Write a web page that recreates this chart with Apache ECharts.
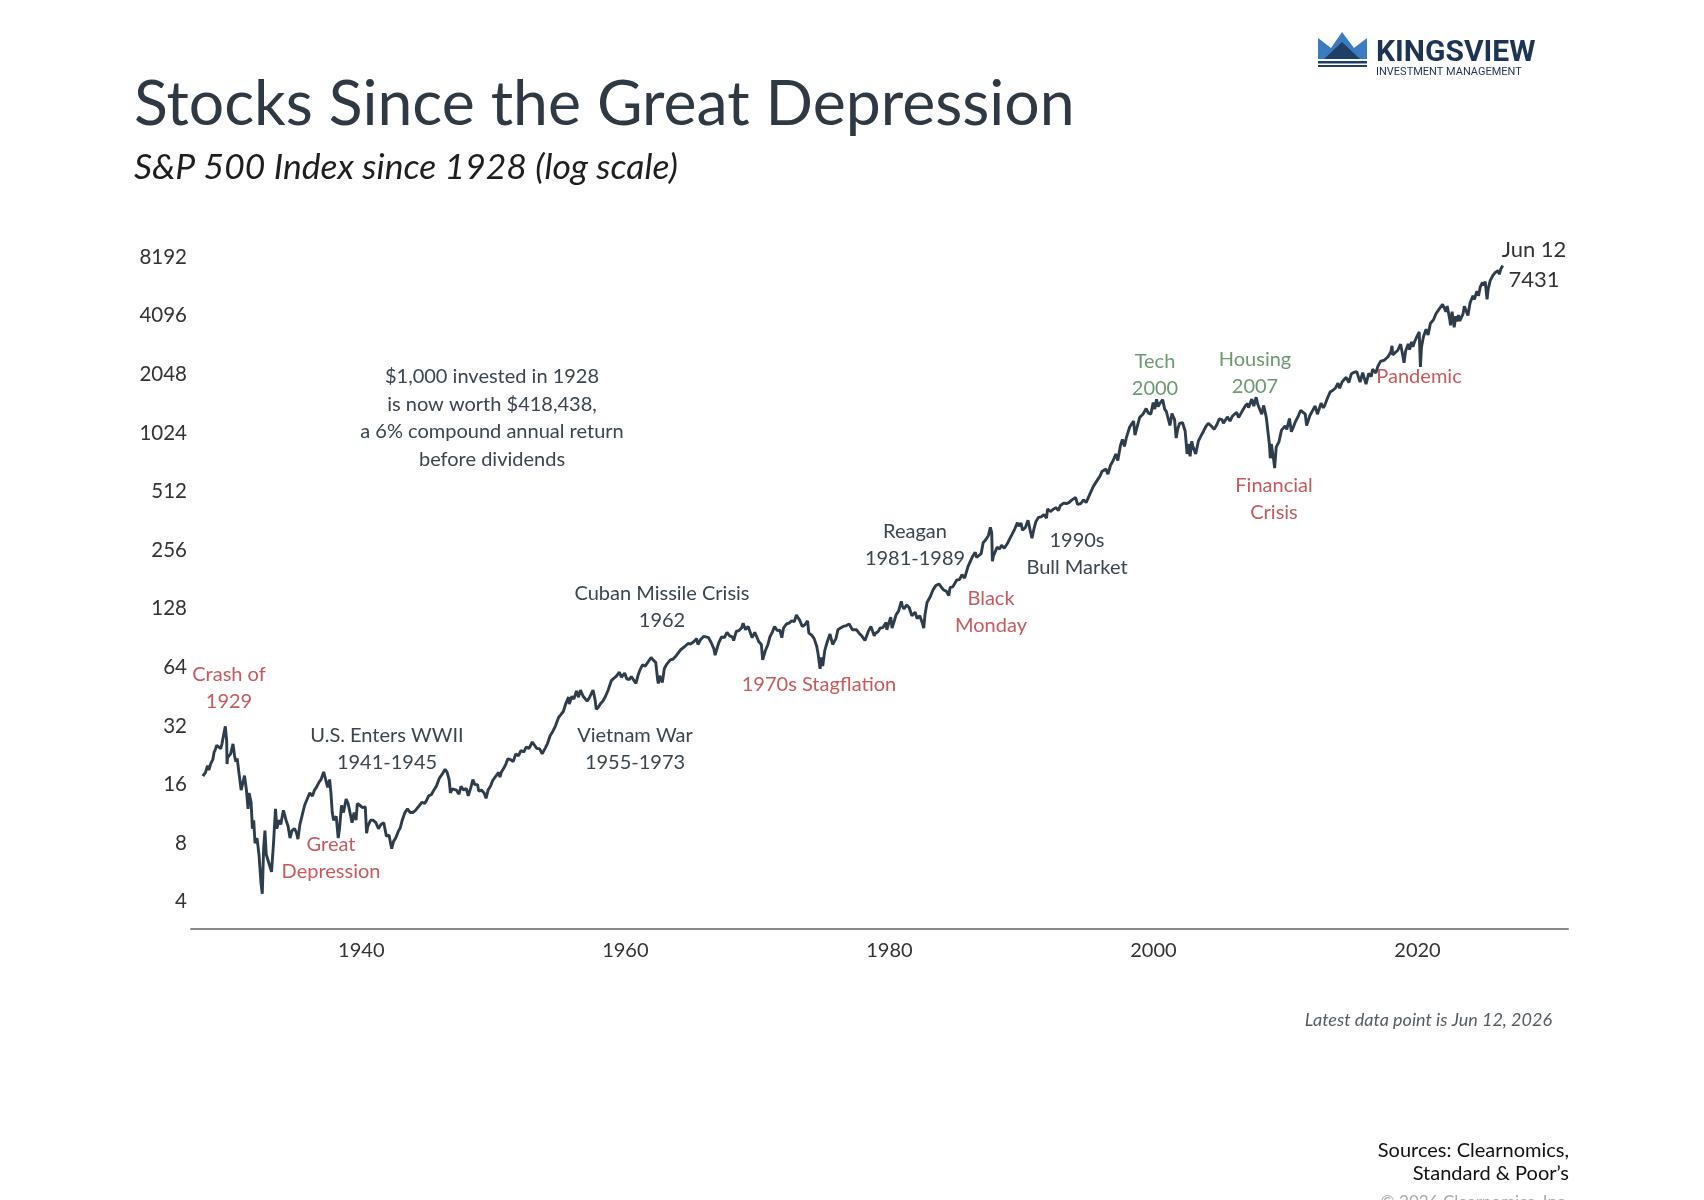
<!DOCTYPE html>
<html>
<head>
<meta charset="utf-8">
<title>Stocks Since the Great Depression</title>
<script src="https://cdn.jsdelivr.net/npm/echarts@6/dist/echarts.min.js"></script>
<style>
  html, body { margin: 0; padding: 0; background: #fff; }
  #chart { width: 1704px; height: 1200px; }
</style>
</head>
<body>
<div id="chart"></div>
<script>
// S&P 500 index (decimal year, index level)
var years = [
  1928.0,1928.1,1928.2,1928.35,1928.45,1928.6,1928.75,1928.85,1928.95,
  1929.05,1929.2,1929.35,1929.45,1929.6,1929.7,1929.8,1929.83,1929.87,1929.95,
  1930.1,1930.28,1930.4,1930.5,1930.6,1930.75,1930.9,1930.98,
  1931.15,1931.3,1931.42,1931.5,1931.65,1931.75,1931.85,1931.95,
  1932.1,1932.25,1932.4,1932.5,1932.6,1932.7,1932.8,1932.95,
  1933.1,1933.2,1933.35,1933.5,1933.6,1933.75,1933.9,
  1934.1,1934.3,1934.45,1934.6,1934.75,1934.95,
  1935.1,1935.2,1935.35,1935.5,1935.7,1935.9,
  1936.1,1936.3,1936.45,1936.6,1936.8,1936.95,
  1937.15,1937.3,1937.45,1937.6,1937.7,1937.8,1937.9,1937.98,
  1938.1,1938.25,1938.35,1938.5,1938.65,1938.85,
  1939.0,1939.2,1939.3,1939.45,1939.6,1939.7,1939.9,
  1940.1,1940.3,1940.4,1940.5,1940.7,1940.9,
  1941.1,1941.3,1941.5,1941.7,1941.9,
  1942.1,1942.3,1942.45,1942.6,1942.8,1942.95,
  1943.1,1943.3,1943.5,1943.7,1943.9,
  1944.1,1944.4,1944.6,1944.8,1944.95,
  1945.1,1945.3,1945.5,1945.7,1945.9,
  1946.1,1946.35,1946.5,1946.65,1946.75,1946.9,
  1947.05,1947.2,1947.4,1947.55,1947.75,1947.95,
  1948.1,1948.3,1948.45,1948.6,1948.8,1948.9,
  1949.1,1949.3,1949.45,1949.6,1949.8,1949.95,
  1950.1,1950.4,1950.5,1950.6,1950.8,1950.95,
  1951.1,1951.3,1951.5,1951.7,1951.9,
  1952.1,1952.3,1952.5,1952.7,1952.95,
  1953.05,1953.3,1953.5,1953.7,1953.95,
  1954.1,1954.3,1954.5,1954.7,1954.95,
  1955.1,1955.3,1955.5,1955.7,1955.75,1955.95,
  1956.1,1956.3,1956.45,1956.6,1956.8,1956.95,
  1957.1,1957.3,1957.55,1957.7,1957.8,1957.95,
  1958.1,1958.3,1958.5,1958.7,1958.95,
  1959.1,1959.3,1959.55,1959.7,1959.95,
  1960.1,1960.3,1960.45,1960.6,1960.8,1960.95,
  1961.1,1961.3,1961.5,1961.7,1961.95,
  1962.1,1962.3,1962.45,1962.5,1962.6,1962.8,1962.95,
  1963.1,1963.4,1963.6,1963.85,1963.95,
  1964.2,1964.5,1964.75,1964.95,
  1965.2,1965.4,1965.5,1965.7,1965.95,
  1966.1,1966.3,1966.5,1966.7,1966.8,1966.95,
  1967.1,1967.3,1967.5,1967.7,1967.9,
  1968.1,1968.2,1968.4,1968.6,1968.8,1968.92,
  1969.1,1969.3,1969.5,1969.6,1969.8,1969.95,
  1970.1,1970.3,1970.4,1970.45,1970.6,1970.8,1970.95,
  1971.1,1971.3,1971.5,1971.7,1971.85,1971.98,
  1972.2,1972.4,1972.6,1972.8,1972.95,
  1973.03,1973.2,1973.4,1973.6,1973.8,1973.9,1973.98,
  1974.1,1974.3,1974.5,1974.6,1974.75,1974.85,1974.95,
  1975.1,1975.3,1975.5,1975.7,1975.95,
  1976.1,1976.3,1976.5,1976.75,1976.95,
  1977.2,1977.5,1977.7,1977.9,
  1978.15,1978.4,1978.6,1978.7,1978.85,1978.95,
  1979.15,1979.3,1979.5,1979.75,1979.8,1979.95,
  1980.1,1980.2,1980.3,1980.5,1980.7,1980.9,1980.97,
  1981.1,1981.3,1981.5,1981.7,1981.95,
  1982.1,1982.3,1982.5,1982.6,1982.7,1982.85,1982.95,
  1983.1,1983.3,1983.5,1983.75,1983.95,
  1984.1,1984.3,1984.5,1984.6,1984.8,1984.95,
  1985.1,1985.3,1985.5,1985.7,1985.95,
  1986.1,1986.3,1986.5,1986.6,1986.75,1986.95,
  1987.1,1987.3,1987.5,1987.65,1987.75,1987.8,1987.88,1987.97,
  1988.15,1988.35,1988.5,1988.7,1988.95,
  1989.1,1989.3,1989.5,1989.7,1989.8,1989.97,
  1990.08,1990.3,1990.5,1990.55,1990.7,1990.8,1990.95,
  1991.1,1991.3,1991.5,1991.7,1991.9,1991.98,
  1992.2,1992.4,1992.6,1992.8,1992.95,
  1993.2,1993.4,1993.6,1993.8,1993.95,
  1994.1,1994.25,1994.5,1994.7,1994.9,1994.98,
  1995.2,1995.45,1995.7,1995.95,
  1996.1,1996.4,1996.55,1996.75,1996.95,
  1997.15,1997.3,1997.5,1997.65,1997.8,1997.95,
  1998.2,1998.5,1998.6,1998.75,1998.95,
  1999.2,1999.45,1999.6,1999.8,1999.98,
  2000.1,2000.23,2000.35,2000.5,2000.7,2000.85,2000.98,
  2001.1,2001.25,2001.4,2001.6,2001.72,2001.85,2001.98,
  2002.2,2002.4,2002.55,2002.65,2002.78,2002.9,2002.98,
  2003.2,2003.4,2003.6,2003.8,2003.98,
  2004.15,2004.4,2004.6,2004.8,2004.98,
  2005.2,2005.3,2005.6,2005.8,2005.98,
  2006.3,2006.45,2006.7,2006.98,
  2007.15,2007.2,2007.45,2007.6,2007.78,2007.9,2007.98,
  2008.2,2008.35,2008.55,2008.7,2008.78,2008.85,2008.93,2008.98,
  2009.1,2009.18,2009.3,2009.5,2009.7,2009.98,
  2010.1,2010.3,2010.45,2010.6,2010.75,2010.98,
  2011.15,2011.3,2011.5,2011.6,2011.75,2011.85,2011.98,
  2012.25,2012.42,2012.7,2012.87,2012.98,
  2013.2,2013.4,2013.6,2013.8,2013.98,
  2014.1,2014.3,2014.6,2014.8,2014.98,
  2015.2,2015.4,2015.65,2015.85,2015.98,
  2016.1,2016.3,2016.5,2016.6,2016.85,2016.98,
  2017.2,2017.5,2017.75,2017.98,
  2018.07,2018.12,2018.3,2018.5,2018.72,2018.85,2018.98,
  2019.1,2019.3,2019.4,2019.55,2019.65,2019.8,2019.98,
  2020.13,2020.22,2020.3,2020.45,2020.65,2020.8,2020.98,
  2021.2,2021.4,2021.6,2021.75,2021.9,2021.99,
  2022.01,2022.15,2022.25,2022.45,2022.5,2022.62,2022.78,2022.9,2022.98,
  2023.1,2023.2,2023.45,2023.55,2023.82,2023.98,
  2024.2,2024.3,2024.5,2024.6,2024.62,2024.75,2024.92,2024.98,
  2025.13,2025.27,2025.35,2025.5,2025.7,2025.85,2025.98,
  2026.1,2026.2,2026.3,2026.4,2026.45
];

var spx = [
  17.7,17.3,18.5,20.0,19.0,20.5,21.5,23.5,24.3,
  25.5,25.0,24.5,26.0,29.5,31.9,27.0,20.4,22.0,21.5,
  23.0,25.9,22.5,21.0,21.8,18.0,15.0,15.3,
  17.8,15.0,12.0,14.5,13.0,9.5,10.5,8.0,
  8.5,7.0,5.0,4.4,7.5,9.3,7.0,7.0,
  6.0,5.7,8.0,12.0,9.5,10.5,10.0,
  11.8,10.5,9.8,8.5,9.3,9.5,
  9.0,8.4,10.0,11.0,12.5,13.5,
  14.5,14.0,15.0,15.5,16.5,17.0,
  18.6,17.0,15.5,17.0,14.5,11.5,10.5,10.5,
  11.0,8.5,9.5,12.5,11.5,13.5,
  12.8,11.0,10.2,11.5,10.5,12.8,12.5,
  12.2,12.3,9.0,9.8,10.5,10.5,
  10.2,9.5,10.0,10.2,8.7,
  8.8,7.5,8.2,8.5,9.2,9.6,
  10.5,11.5,12.0,11.5,11.5,
  11.8,12.5,13.0,12.8,13.3,
  14.0,14.2,15.0,15.8,17.2,
  18.0,19.2,18.5,17.0,14.5,15.2,
  15.5,15.0,14.3,15.7,15.0,15.3,
  14.0,15.5,17.0,16.0,16.0,14.8,
  15.0,14.5,13.6,15.0,15.8,16.8,
  17.2,18.5,17.5,18.5,19.5,20.4,
  21.7,21.5,21.0,23.0,22.5,
  24.0,23.5,25.0,24.5,26.5,
  26.5,24.5,24.5,23.0,24.8,
  26.0,28.5,30.0,32.0,35.5,
  36.5,38.0,42.0,45.0,41.5,45.5,
  44.0,48.5,45.0,49.0,45.5,46.5,
  43.0,45.0,49.0,44.0,39.0,40.0,
  41.5,43.0,45.5,49.0,55.0,
  55.5,57.5,60.5,57.0,59.9,
  56.0,55.5,57.5,56.5,53.0,58.0,
  62.0,66.0,65.0,68.0,72.0,
  70.0,68.0,55.0,53.0,58.0,53.5,63.0,
  66.0,70.0,70.5,73.5,75.0,
  79.0,82.0,85.0,84.5,
  87.0,90.0,84.0,89.0,92.5,
  94.0,91.0,86.0,80.0,74.0,80.5,
  86.5,92.0,91.0,97.0,93.0,
  92.0,88.0,98.0,99.0,102.0,108.0,
  100.0,104.0,95.0,91.0,97.0,92.0,
  87.0,84.0,70.0,72.0,78.0,84.0,92.0,
  96.0,104.0,99.0,99.5,91.0,102.0,
  107.0,108.0,111.0,110.0,119.0,
  120.0,112.0,104.0,106.0,111.0,96.0,97.0,
  94.0,90.0,82.0,75.0,63.0,72.0,65.0,
  78.0,87.0,95.0,84.0,90.0,
  100.0,102.0,104.0,105.0,107.0,
  100.0,100.0,96.0,93.0,
  88.0,98.0,104.0,106.0,93.0,96.0,
  98.0,102.0,102.5,109.0,100.0,108.0,
  116.0,102.0,107.0,119.0,125.0,140.0,133.0,
  128.0,134.0,130.0,118.0,123.0,
  114.0,118.0,108.0,102.0,120.0,138.0,140.0,
  148.0,160.0,168.0,172.0,165.0,
  160.0,158.0,150.0,165.0,166.0,167.0,
  180.0,181.0,192.0,184.0,211.0,
  213.0,238.0,250.0,235.0,233.0,246.0,
  280.0,290.0,305.0,336.0,315.0,225.0,240.0,247.0,
  265.0,260.0,272.0,262.0,278.0,
  292.0,310.0,330.0,355.0,340.0,353.0,
  325.0,335.0,365.0,368.0,315.0,295.0,330.0,
  360.0,378.0,380.0,390.0,375.0,417.0,
  405.0,415.0,424.0,410.0,435.0,
  447.0,445.0,450.0,463.0,466.0,
  478.0,440.0,445.0,465.0,450.0,459.0,
  500.0,545.0,580.0,615.0,
  650.0,670.0,630.0,700.0,740.0,
  800.0,740.0,885.0,950.0,875.0,970.0,
  1100.0,1180.0,1000.0,990.0,1230.0,
  1280.0,1370.0,1300.0,1280.0,1469.0,
  1360.0,1527.0,1400.0,1460.0,1520.0,1360.0,1320.0,
  1340.0,1120.0,1290.0,1200.0,966.0,1080.0,1148.0,
  1160.0,1050.0,800.0,900.0,777.0,930.0,880.0,
  800.0,930.0,990.0,1050.0,1110.0,
  1150.0,1110.0,1070.0,1130.0,1210.0,
  1200.0,1150.0,1240.0,1180.0,1250.0,
  1310.0,1230.0,1320.0,1420.0,
  1450.0,1380.0,1530.0,1410.0,1565.0,1440.0,1468.0,
  1280.0,1420.0,1230.0,1250.0,900.0,760.0,900.0,880.0,
  750.0,677.0,870.0,920.0,1060.0,1115.0,
  1070.0,1217.0,1040.0,1100.0,1170.0,1257.0,
  1340.0,1363.0,1280.0,1120.0,1100.0,1260.0,1257.0,
  1410.0,1280.0,1460.0,1380.0,1426.0,
  1560.0,1670.0,1700.0,1750.0,1848.0,
  1740.0,1880.0,1980.0,1860.0,2058.0,
  2100.0,2120.0,1870.0,2090.0,2044.0,
  1829.0,2070.0,2000.0,2180.0,2085.0,2239.0,
  2390.0,2430.0,2520.0,2674.0,
  2873.0,2580.0,2650.0,2720.0,2930.0,2640.0,2351.0,
  2700.0,2940.0,2750.0,3010.0,2840.0,3040.0,3230.0,
  3386.0,2237.0,2830.0,3200.0,3500.0,3270.0,3756.0,
  3900.0,4200.0,4400.0,4350.0,4700.0,4766.0,
  4796.0,4300.0,4600.0,3900.0,3667.0,4300.0,3577.0,4080.0,3840.0,
  4130.0,3860.0,4200.0,4590.0,4120.0,4770.0,
  5200.0,4970.0,5480.0,5350.0,5186.0,5750.0,6090.0,5880.0,
  6144.0,4982.0,5600.0,6200.0,6600.0,6800.0,6850.0,
  7000.0,6700.0,7100.0,7300.0,7431.0
];

var yTicks = [4, 8, 16, 32, 64, 128, 256, 512, 1024, 2048, 4096, 8192];
var xTicks = [1940, 1960, 1980, 2000, 2020];

var notesRed = [
  ['Crash of\n1929', 229, 688],
  ['Great\nDepression', 331, 858],
  ['1970s Stagflation', 819, 685],
  ['Black\nMonday', 991, 612],
  ['Financial\nCrisis', 1274, 499],
  ['Pandemic', 1419, 377]
];
var notesGreen = [
  ['Tech\n2000', 1155, 375],
  ['Housing\n2007', 1255, 373]
];
var notesDark = [
  ['U.S. Enters WWII\n1941-1945', 387, 749],
  ['Cuban Missile Crisis\n1962', 662, 607],
  ['Vietnam War\n1955-1973', 635, 749],
  ['Reagan\n1981-1989', 915, 545],
  ['1990s\nBull Market', 1077, 554]
];

var FONT = 'Lato, "Open Sans", sans-serif';

var seriesData = [];
for (var i = 0; i < years.length; i++) {
  seriesData.push([years[i], spx[i]]);
}

function note(item, color) {
  return {
    type: 'text',
    x: item[1],
    y: item[2],
    style: {
      text: item[0],
      fill: color,
      font: '20px ' + FONT,
      lineHeight: 27,
      align: 'center',
      verticalAlign: 'middle'
    }
  };
}

var graphics = [];
notesRed.forEach(function (n) { graphics.push(note(n, '#c75a5e')); });
notesGreen.forEach(function (n) { graphics.push(note(n, '#6c9a70')); });
notesDark.forEach(function (n) { graphics.push(note(n, '#3a4550')); });

graphics.push(
  {
    type: 'text', x: 134, y: 105,
    style: { text: 'Stocks Since the Great Depression', fill: '#2e3944',
      font: '62.5px ' + FONT, verticalAlign: 'middle' }
  },
  {
    type: 'text', x: 134, y: 168,
    style: { text: 'S&P 500 Index since 1928 (log scale)', fill: '#1e1e1e',
      font: 'italic 35.5px ' + FONT, verticalAlign: 'middle' }
  },
  {
    type: 'text', x: 1534, y: 265,
    style: { text: 'Jun 12\n7431', fill: '#333', font: '22px ' + FONT,
      lineHeight: 30, align: 'center', verticalAlign: 'middle' }
  },
  {
    type: 'text', x: 492, y: 418,
    style: {
      text: '$1,000 invested in 1928\nis now worth $418,438,\na 6% compound annual return\nbefore dividends',
      fill: '#3a4550', font: '20px ' + FONT, lineHeight: 27.5,
      align: 'center', verticalAlign: 'middle'
    }
  },
  {
    type: 'text', x: 1552, y: 1020,
    style: { text: 'Latest data point is Jun 12, 2026', fill: '#555c63',
      font: 'italic 18px ' + FONT, align: 'right', verticalAlign: 'middle' }
  },
  {
    type: 'text', x: 1569, y: 1162,
    style: { text: 'Sources: Clearnomics,\nStandard & Poor\u2019s', fill: '#111',
      font: '20px ' + FONT, lineHeight: 23, align: 'right', verticalAlign: 'middle' }
  },
  {
    type: 'text', x: 1569, y: 1194,
    style: { text: '\u00a9 2026 Clearnomics, Inc.', fill: '#aaa',
      font: '17px ' + FONT, align: 'right', verticalAlign: 'top' }
  },
  // logo: crown
  {
    type: 'polygon',
    shape: { points: [[1318, 38], [1331, 48], [1342, 32], [1354, 48], [1367, 38], [1367, 59], [1318, 59]] },
    style: { fill: '#3b7cc0' }
  },
  {
    type: 'polygon',
    shape: { points: [[1324, 59], [1342, 42], [1360, 59]] },
    style: { fill: '#1f3f66' }
  },
  { type: 'rect', shape: { x: 1318, y: 61, width: 49, height: 2.5 }, style: { fill: '#1f3f66' } },
  { type: 'rect', shape: { x: 1318, y: 65, width: 49, height: 2 }, style: { fill: '#1f3f66' } },
  {
    type: 'text', x: 1376, y: 53,
    style: { text: 'KINGSVIEW', fill: '#1d3454',
      font: 'bold 30px "Liberation Sans Narrow", Roboto, sans-serif', verticalAlign: 'middle' }
  },
  {
    type: 'text', x: 1376, y: 72,
    style: { text: 'INVESTMENT MANAGEMENT', fill: '#1d3454',
      font: '11px "Liberation Sans Narrow", Roboto, sans-serif', verticalAlign: 'middle' }
  }
);

var chart = echarts.init(document.getElementById('chart'));
chart.setOption({
  backgroundColor: '#fff',
  animation: false,
  grid: { left: 191, right: 136, top: 228, bottom: 271 },
  xAxis: {
    type: 'value',
    min: 1927.1,
    max: 2031.4,
    axisLine: { show: true, lineStyle: { color: '#8a8a8a', width: 2 } },
    axisTick: { show: false },
    splitLine: { show: false },
    axisLabel: {
      customValues: xTicks,
      formatter: function (v) { return String(v); },
      color: '#333',
      fontFamily: FONT,
      fontSize: 20,
      margin: 12
    }
  },
  yAxis: {
    type: 'log',
    logBase: 2,
    min: 2.9,
    max: 11585,
    axisLine: { show: false },
    axisTick: { show: false },
    splitLine: { show: false },
    axisLabel: {
      customValues: yTicks,
      formatter: function (v) { return String(Math.round(v)); },
      color: '#333',
      fontFamily: FONT,
      fontSize: 20.5,
      margin: 4
    }
  },
  series: [{
    type: 'line',
    data: seriesData,
    showSymbol: false,
    lineStyle: { color: '#2e3d4c', width: 2.9 },
    z: 3
  }],
  graphic: graphics
});
</script>
</body>
</html>
